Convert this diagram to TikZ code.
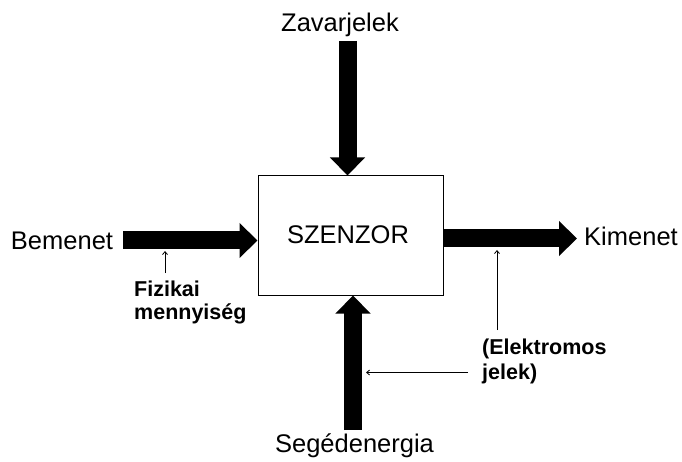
\documentclass[tikz,border=0pt]{standalone}
\usepackage{fontspec}
\setmainfont{Liberation Sans}
\usetikzlibrary{arrows.meta}
\begin{document}
\begin{tikzpicture}[x=1pt,y=-1pt,
  biglbl/.style={font=\fontsize{25.5}{30}\selectfont, inner sep=0pt, anchor=base},
  smalllbl/.style={font=\fontsize{21.5}{25}\selectfont\bfseries, inner sep=0pt, anchor=north west, align=left},
  bigarrow/.style={line width=18pt, -{Triangle[length=18pt,width=34pt]}},
  thinarrow/.style={line width=0.8pt, -{Straight Barb[length=3pt,width=5pt]}}]
\useasboundingbox (0,0) rectangle (682,462);
\node[draw, line width=1pt, minimum width=185pt, minimum height=119pt, inner sep=0pt] (box) at (350.5,235.5) {};
\node[biglbl] (szenzor) at (348,243.5) {SZENZOR};
\node[biglbl] (bem) at (62,249) {Bemenet};
\node[biglbl] (kim) at (631,245) {Kimenet};
\node[biglbl] (zav) at (340,32) {Zavarjelek};
\node[biglbl] (seg) at (354.5,452) {Segédenergia};
\node[smalllbl] (fiz) at (134,281) {Fizikai\\[-2pt]mennyiség};
\node[smalllbl] (elek) at (482,339) {(Elektromos\\[0pt]jelek)};
% big arrows
\coordinate (lin) at (123,240.5);
\draw[bigarrow] (lin) -- (lin -| box.west);
\coordinate (rout) at (577,238.5);
\draw[bigarrow] (rout -| box.east) -- (rout);
\coordinate (tin) at (347.5,41);
\draw[bigarrow] (tin) -- (tin |- box.north);
\coordinate (bin) at (353,430);
\draw[bigarrow] (bin) -- (bin |- box.south);
% thin arrows
\coordinate (fa) at (165,273);
\coordinate (fb) at (165,251);
\draw[thinarrow] (fa) -- (fb);
\coordinate (ea) at (497,330);
\coordinate (eb) at (497,250);
\draw[thinarrow] (ea) -- (eb);
\coordinate (ha) at (468,372.5);
\coordinate (hb) at (366,372.5);
\draw[thinarrow] (ha) -- (hb);
\end{tikzpicture}
\end{document}
